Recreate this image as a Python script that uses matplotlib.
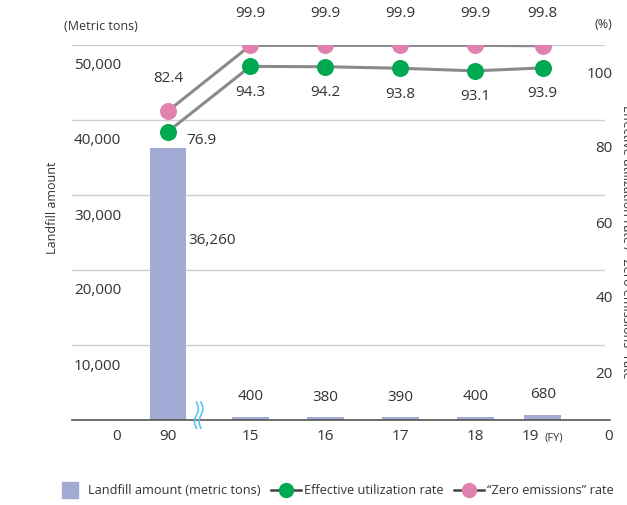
import numpy as np
import matplotlib.pyplot as plt
from matplotlib.lines import Line2D
from matplotlib.transforms import offset_copy

plt.rcParams['font.family'] = ['Open Sans', 'DejaVu Sans']

# fiscal years (1990 baseline, then FY2015-2019)
years = ["90", "15", "16", "17", "18", "19"]
xpos = [0, 1.1, 2.1, 3.1, 4.1, 5.0]
landfill = [36260, 400, 380, 390, 400, 680]
effective = [76.9, 94.3, 94.2, 93.8, 93.1, 93.9]
zero_em = [82.4, 99.9, 99.9, 99.9, 99.9, 99.8]
left_ticks = [0, 10000, 20000, 30000, 40000, 50000]
right_ticks = [0, 20, 40, 60, 80, 100]

bar_col = "#a3aad6"
green = "#00a84f"
pink = "#e181b0"
txt = "#333333"

fig = plt.figure(figsize=(6.27, 5.05), dpi=100)
ax = fig.add_axes([72 / 627, 85 / 505, 533 / 627, 375 / 505])
ax.set_xlim(-1.28, 5.83)
ax.set_ylim(0, 50000)
ax2 = ax.twinx()
ax2.set_ylim(0, 100)

for a in (ax, ax2):
    for s in a.spines.values():
        s.set_visible(False)
    a.set_xticks([])
    a.set_yticks([])

for v in left_ticks[1:]:
    ax.axhline(v, color="#cfcfcf", lw=1, zorder=0)
ax.axhline(0, xmax=1.01, color="#555555", lw=1.2, zorder=3, clip_on=False)

ax.bar(xpos, landfill, width=0.49, color=bar_col, zorder=2)

# rate lines
ax2.plot(xpos, effective, color="#8a8a8a", lw=2.2, zorder=3)
ax2.plot(xpos, zero_em, color="#8a8a8a", lw=2.2, zorder=3)
ax2.scatter(xpos, effective, s=150, color=green, zorder=4, linewidths=0)
ax2.scatter(xpos, zero_em, s=150, color=pink, zorder=4, linewidths=0)

fs = 11
# left axis labels sit below their gridlines
ytr = ax.get_yaxis_transform()
for v in left_ticks:
    dy = -17 if v == 0 else -21
    ax.text(0.092, v, f"{v:,}", ha="right", va="center", fontsize=fs, color=txt,
            transform=offset_copy(ytr, fig=fig, y=dy, units="dots"), clip_on=False)
ytr2 = ax2.get_yaxis_transform()
for v in right_ticks:
    dy = -17 if v == 0 else -29
    ax2.text(1.015, v, f"{v}", ha="right", va="center", fontsize=fs, color=txt,
             transform=offset_copy(ytr2, fig=fig, y=dy, units="dots"), clip_on=False)

# category labels
for i, (x, y) in enumerate(zip(xpos, years)):
    if i == len(years) - 1:
        ax.annotate(y, (x, 0), xytext=(-4, -17), textcoords="offset pixels",
                    ha="right", va="center", fontsize=fs, color=txt, annotation_clip=False)
        ax.annotate("(FY)", (x, 0), xytext=(2, -18), textcoords="offset pixels",
                    ha="left", va="center", fontsize=8, color=txt, annotation_clip=False)
    else:
        ax.annotate(y, (x, 0), xytext=(0, -17), textcoords="offset pixels",
                    ha="center", va="center", fontsize=fs, color=txt, annotation_clip=False)

# bar value labels
ax.text(xpos[0] + 0.27, landfill[0] * 0.66, f"{landfill[0]:,}", ha="left", va="center",
        fontsize=fs, color=txt)
for x, v in zip(xpos[1:], landfill[1:]):
    ax.annotate(f"{v:,}", (x, v), xytext=(0, 20), textcoords="offset pixels",
                ha="center", va="center", fontsize=fs, color=txt)

# rate value labels
for i, (x, v) in enumerate(zip(xpos, zero_em)):
    ax2.annotate(f"{v}", (x, v), xytext=(0, 32), textcoords="offset pixels",
                 ha="center", va="center", fontsize=fs, color=txt, annotation_clip=False)
for i, (x, v) in enumerate(zip(xpos, effective)):
    off = (33, -9) if i == 0 else (0, -26)
    ax2.annotate(f"{v}", (x, v), xytext=off, textcoords="offset pixels",
                 ha="center", va="center", fontsize=fs, color=txt)

# axis break mark between 1990 and FY2015
t = np.linspace(0, 1, 50)
by = 2400 - t * 3500
for dx in (0.38, 0.44):
    ax.plot(xpos[0] + dx + 0.025 * np.sin(t * 2 * np.pi), by, color="#5ec4f0",
            lw=1.2, zorder=5, clip_on=False)

# unit captions and axis titles
fig.text(101 / 627, 1 - 26 / 505, "(Metric tons)", ha="center", va="center",
         fontsize=9, color=txt)
fig.text(603 / 627, 1 - 25 / 505, "(%)", ha="center", va="center", fontsize=9, color=txt)
fig.text(52 / 627, 1 - 208 / 505, "Landfill amount", rotation=90, ha="center",
         va="center", fontsize=9, color=txt)
fig.text(623 / 627, 1 - 242 / 505, "Effective utilization rate / \u201cZero emissions\u201d rate",
         rotation=270, ha="center", va="baseline", fontsize=9, color=txt,
         rotation_mode="anchor")

handles = [
    Line2D([], [], ls="", marker="s", ms=11.5, color=bar_col),
    Line2D([], [], color="#444444", lw=1.8, marker="o", ms=10, mfc=green, mec=green),
    Line2D([], [], color="#444444", lw=1.8, marker="o", ms=10, mfc=pink, mec=pink),
]
labels = ["Landfill amount (metric tons)", "Effective utilization rate",
          "\u201cZero emissions\u201d rate"]
fig.legend(handles, labels, loc="center", bbox_to_anchor=(334 / 627, 1 - 491 / 505),
           ncol=3, frameon=False, fontsize=9.2, handlelength=2.4, handletextpad=0.2,
           columnspacing=0.8, labelcolor=txt)

fig.savefig("out.png", dpi=100)
